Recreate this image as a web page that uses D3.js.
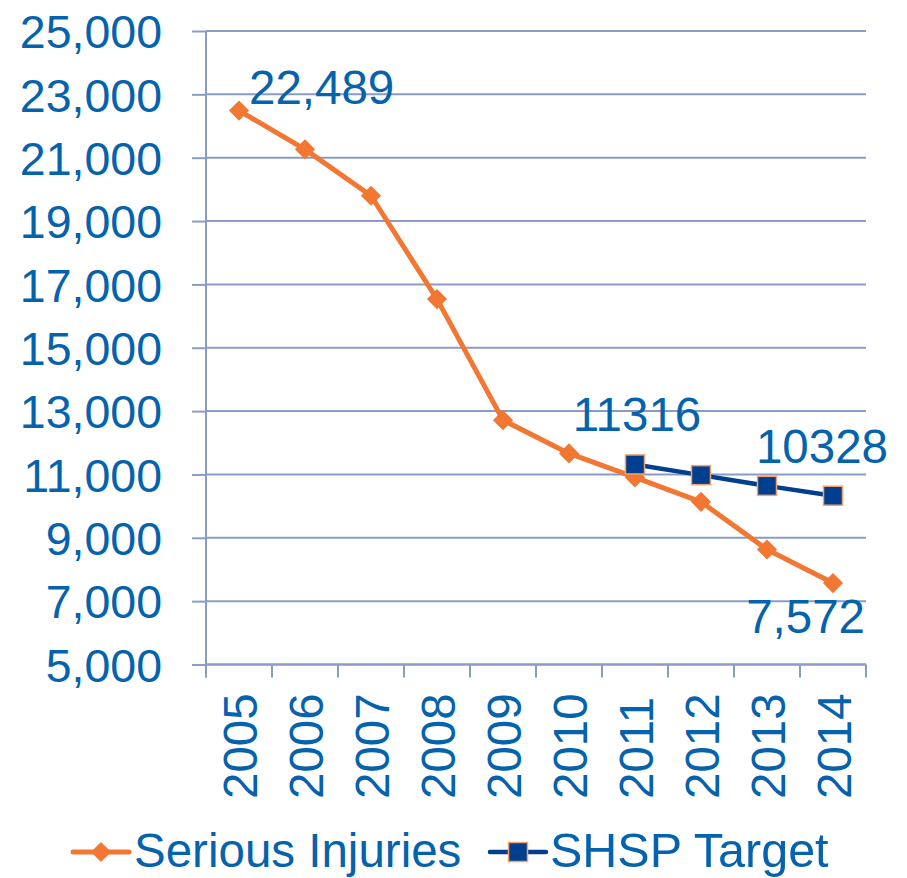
<!DOCTYPE html>
<html><head><meta charset="utf-8">
<script src="https://cdn.jsdelivr.net/npm/d3@7"></script>
<style>body{margin:0;background:#fff}svg{display:block}text{font-family:"Liberation Sans",Arial,sans-serif}</style>
</head><body><svg id="c" width="907" height="878"></svg>
<script>
const years = ["2005","2006","2007","2008","2009","2010","2011","2012","2013","2014"];
const seriousInjuries = [22489, 21264, 19799, 16536, 12715, 11663, 10905, 10135, 8631, 7572];
const shspYears = ["2011","2012","2013","2014"];
const shspTarget = [11316, 10978, 10640, 10328];
const yTicks = [5000, 7000, 9000, 11000, 13000, 15000, 17000, 19000, 21000, 23000, 25000];

const textColor = "#0562AC", orange = "#F27732", navy = "#003F8E", grid = "#8A9CC6", sqStroke = "#F4A06A";
const svg = d3.select("#c");
const L = 206, R = 866, T = 31, B = 664.5;
const x = d3.scaleBand().domain(years).range([L, R]).padding(0);
const y = d3.scaleLinear().domain([5000, 25000]).range([B, T]);
const cx = d => x(d) + x.bandwidth() / 2;
const fmt = d3.format(",");

// gridlines + y axis
const yAxis = d3.axisLeft(y).tickValues(yTicks).tickSize(14).tickFormat(fmt).tickPadding(30);
const gy = svg.append("g").attr("transform", `translate(${L},0)`).call(yAxis);
gy.select(".domain").remove();
gy.selectAll(".tick line").attr("stroke", grid).attr("stroke-width", 2);
gy.selectAll(".tick text").attr("fill", textColor).attr("font-size", 46.5).attr("dy", "0.36em");
svg.append("g").selectAll("line").data(yTicks).join("line")
  .attr("x1", L).attr("x2", R).attr("y1", d => y(d)).attr("y2", d => y(d))
  .attr("stroke", grid).attr("stroke-width", 2);
svg.append("line").attr("x1", L).attr("x2", L).attr("y1", T).attr("y2", B + 13).attr("stroke", grid).attr("stroke-width", 2);

// x axis
const xAxis = d3.axisBottom(x).tickSize(0).tickFormat("");
const gx = svg.append("g").attr("transform", `translate(0,${B})`).call(xAxis);
gx.select(".domain").attr("stroke", grid).attr("stroke-width", 2).attr("d", `M${L},0H${R}`);
const bounds = years.map(d => x(d)).concat([R]);
svg.append("g").selectAll("line").data(bounds).join("line")
  .attr("x1", d => d).attr("x2", d => d).attr("y1", B).attr("y2", B + 13)
  .attr("stroke", grid).attr("stroke-width", 2);
svg.append("g").selectAll("text").data(years).join("text")
  .attr("transform", d => `translate(${cx(d) + 17.5},799) rotate(-90)`)
  .attr("text-anchor", "start").attr("font-size", 47.5).attr("fill", textColor).text(d => d);

// lines
const line = d3.line().x(d => cx(d[0])).y(d => y(d[1]));
const siData = years.map((yr, i) => [yr, seriousInjuries[i]]);
const shData = shspYears.map((yr, i) => [yr, shspTarget[i]]);
svg.append("path").datum(siData).attr("d", line).attr("fill", "none").attr("stroke", orange).attr("stroke-width", 5).attr("stroke-linejoin", "round");
svg.append("g").selectAll("path").data(siData).join("path")
  .attr("d", d3.symbol(d3.symbolDiamond2, 260)).attr("transform", d => `translate(${cx(d[0])},${y(d[1])})`).attr("fill", orange);
svg.append("path").datum(shData).attr("d", line).attr("fill", "none").attr("stroke", navy).attr("stroke-width", 4.5).attr("stroke-linejoin", "round");
svg.append("g").selectAll("rect").data(shData).join("rect")
  .attr("x", d => cx(d[0]) - 9.5).attr("y", d => y(d[1]) - 9.5).attr("width", 19).attr("height", 19)
  .attr("fill", navy).attr("stroke", sqStroke).attr("stroke-width", 1.5);

// data labels
const lab = svg.append("g").attr("fill", textColor).attr("font-size", 47.5);
lab.append("text").attr("x", cx(years[0]) + 10).attr("y", y(seriousInjuries[0]) - 7).text(fmt(seriousInjuries[0]));
lab.append("text").attr("x", cx(years[9])).attr("dx", 32).attr("y", y(seriousInjuries[9]) + 50).attr("text-anchor", "end").text(fmt(seriousInjuries[9]));
lab.append("text").attr("x", cx(shspYears[0]) + 2).attr("y", y(shspTarget[0]) - 33).attr("text-anchor", "middle").text(shspTarget[0]);
lab.append("text").attr("x", cx(shspYears[3]) - 11).attr("y", y(shspTarget[3]) - 33).attr("text-anchor", "middle").text(shspTarget[3]);

// legend
const lg = svg.append("g");
lg.append("line").attr("x1", 73).attr("x2", 129).attr("y1", 852).attr("y2", 852).attr("stroke", orange).attr("stroke-width", 5).attr("stroke-linecap", "round");
lg.append("path").attr("d", d3.symbol(d3.symbolDiamond2, 260)).attr("transform", "translate(101,852)").attr("fill", orange);
lg.append("text").attr("x", 134).attr("y", 867).attr("font-size", 47.5).attr("fill", textColor).text("Serious Injuries");
lg.append("line").attr("x1", 490).attr("x2", 546).attr("y1", 852).attr("y2", 852).attr("stroke", navy).attr("stroke-width", 4.5).attr("stroke-linecap", "round");
lg.append("rect").attr("x", 508.5).attr("y", 842.5).attr("width", 19).attr("height", 19).attr("fill", navy).attr("stroke", sqStroke).attr("stroke-width", 1.5);
lg.append("text").attr("x", 550).attr("y", 867).attr("font-size", 48.5).attr("fill", textColor).text("SHSP Target");
</script></body></html>
